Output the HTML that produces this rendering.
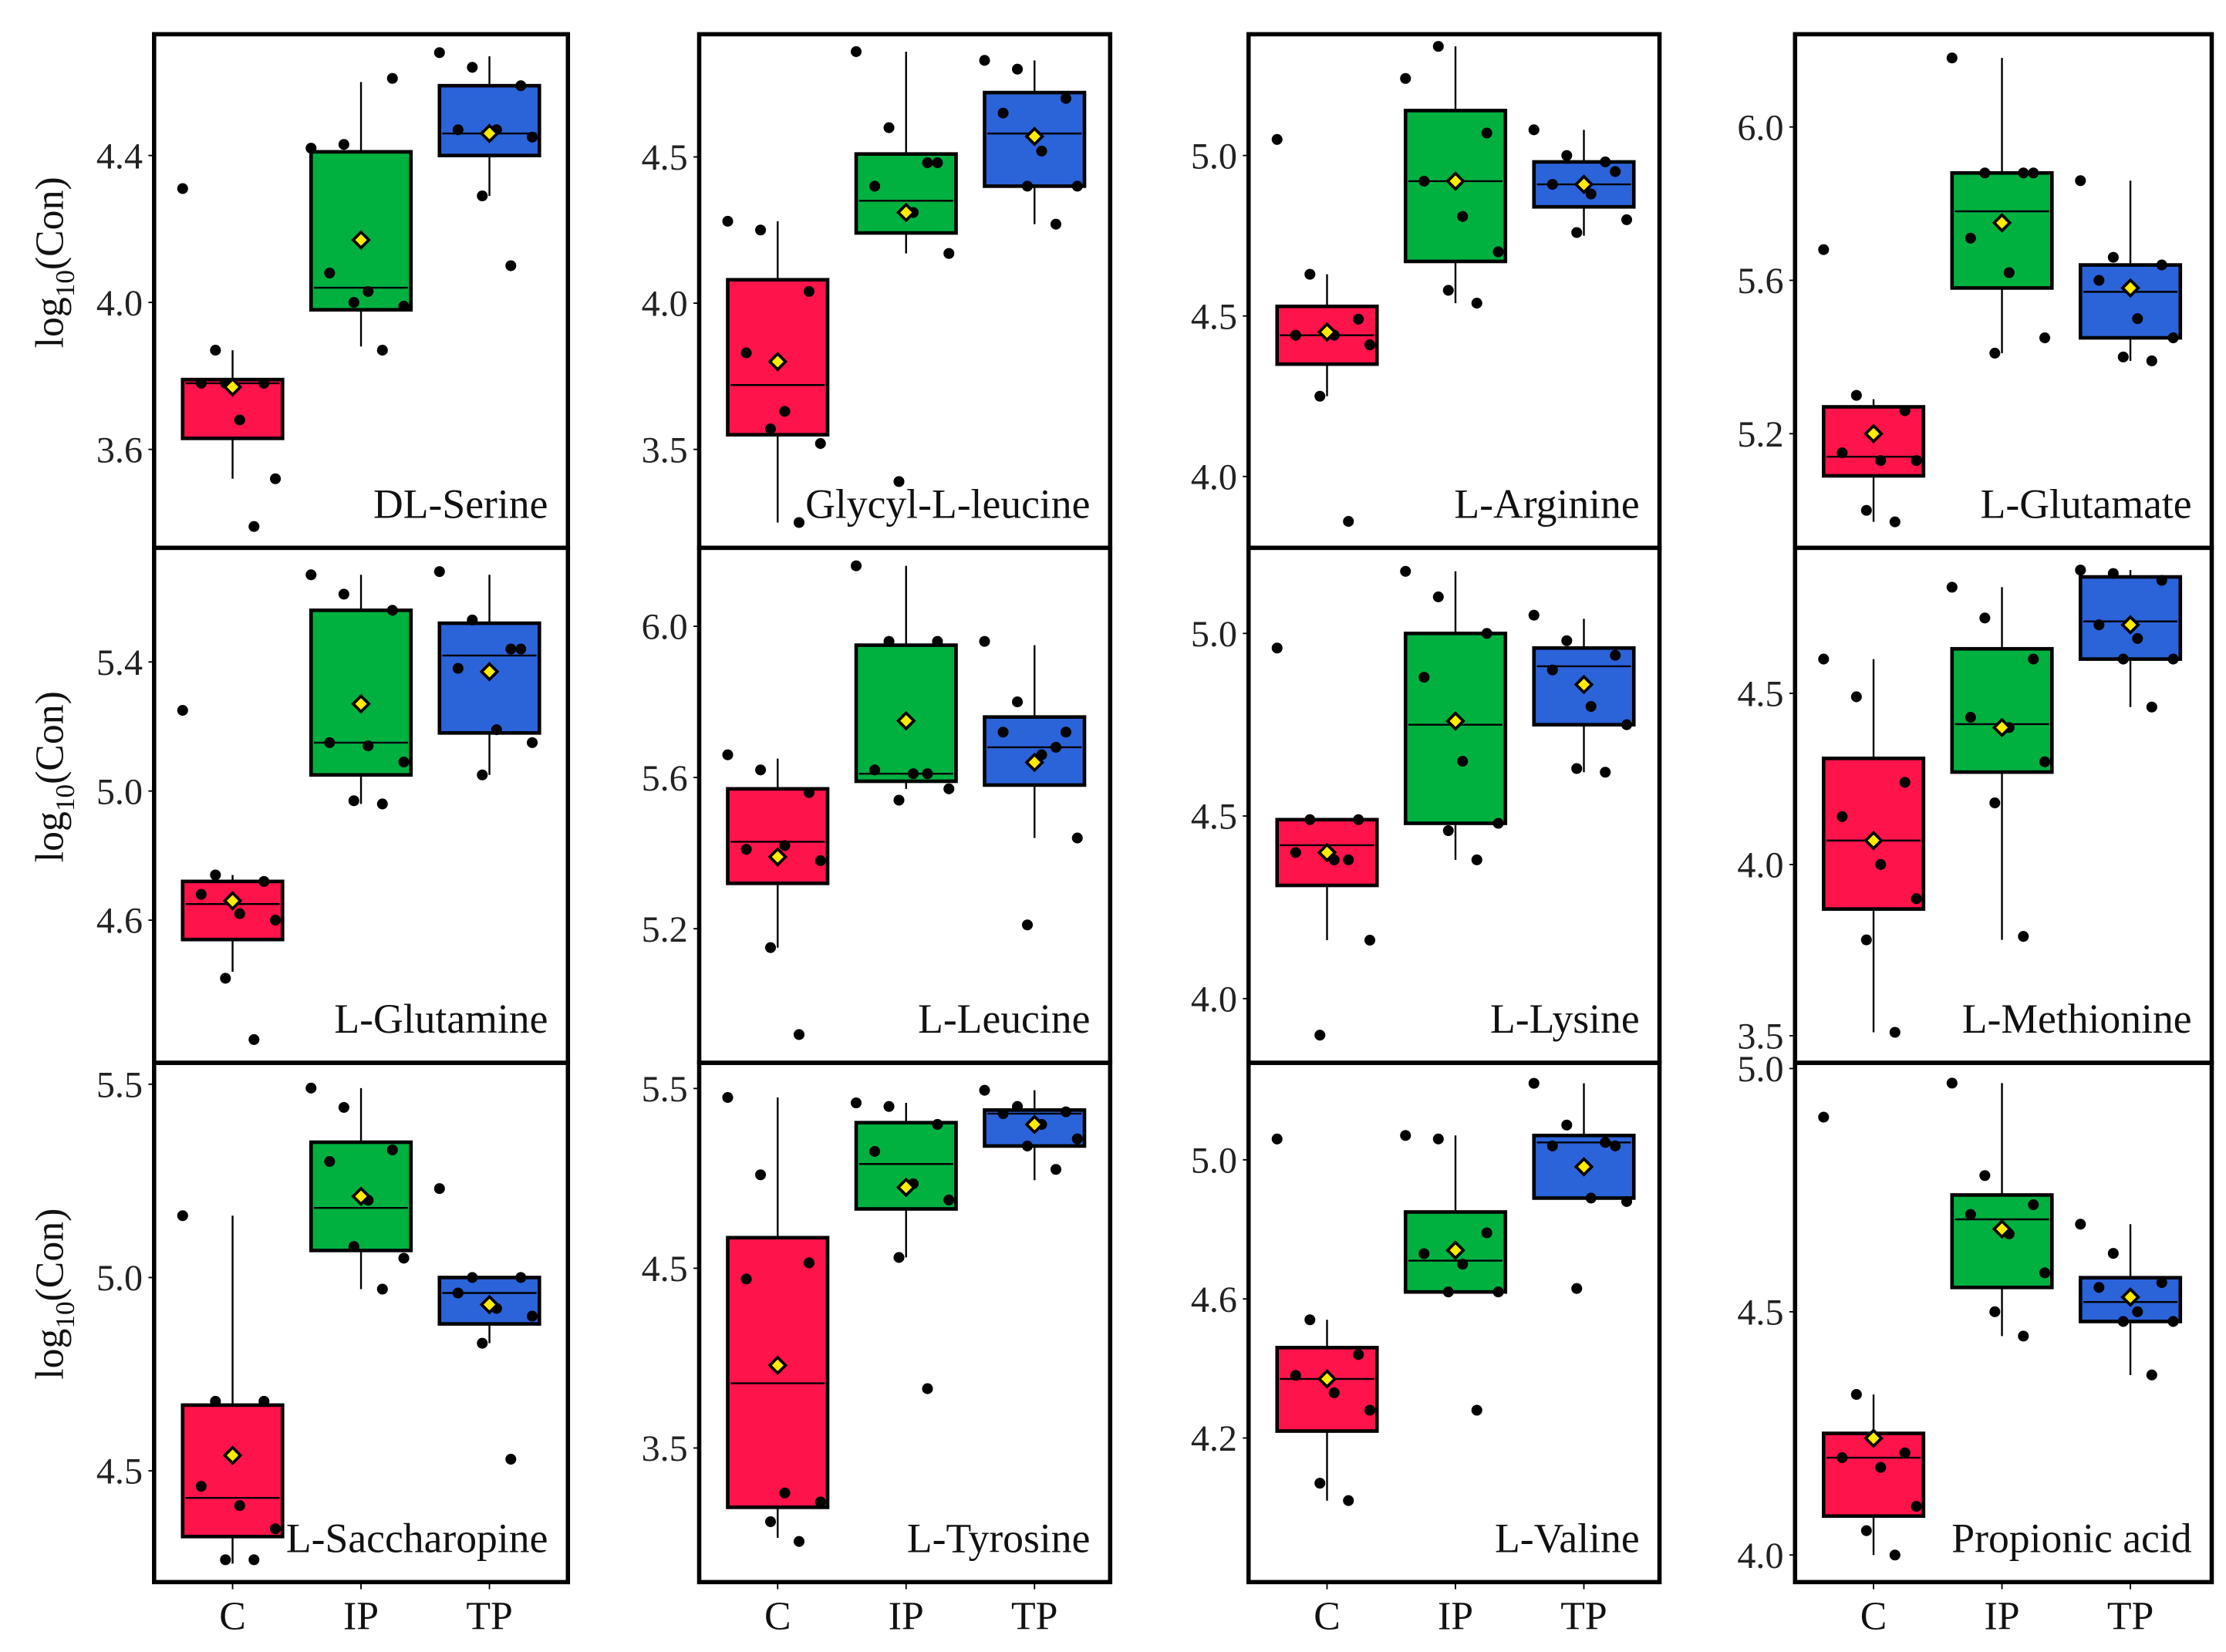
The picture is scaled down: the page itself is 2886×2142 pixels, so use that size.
<!DOCTYPE html>
<html><head><meta charset="utf-8"><style>html,body{margin:0;padding:0;background:#fff}svg{display:block}</style></head>
<body>
<svg id="chart" width="2886" height="2142" viewBox="0 0 1560 1158" preserveAspectRatio="none" xmlns="http://www.w3.org/2000/svg"></svg>
<script>
const groups = ["C","IP","TP"];
const panelNames = ["DL-Serine","Glycyl-L-leucine","L-Arginine","L-Glutamate","L-Glutamine","L-Leucine","L-Lysine","L-Methionine","L-Saccharopine","L-Tyrosine","L-Valine","Propionic acid"];
const tickLabels = [["3.6","4.0","4.4"],["3.5","4.0","4.5"],["4.0","4.5","5.0"],["5.2","5.6","6.0"],["4.6","5.0","5.4"],["5.2","5.6","6.0"],["4.0","4.5","5.0"],["3.5","4.0","4.5"],["4.5","5.0","5.5"],["3.5","4.5","5.5"],["4.2","4.6","5.0"],["4.0","4.5","5.0"]];
// [q1, median, q3, whiskerLow, whiskerHigh, mean] per group
const boxStats = [
 [[3.63,3.78,3.79,3.52,3.87,3.77],[3.98,4.04,4.41,3.88,4.60,4.17],[4.40,4.46,4.59,4.29,4.67,4.46]],
 [[3.55,3.72,4.08,3.25,4.28,3.80],[4.24,4.35,4.51,4.17,4.86,4.31],[4.40,4.58,4.72,4.27,4.83,4.57]],
 [[4.35,4.44,4.53,4.25,4.63,4.45],[4.67,4.92,5.14,4.54,5.34,4.92],[4.84,4.91,4.98,4.75,5.08,4.91]],
 [[5.09,5.14,5.27,4.97,5.29,5.20],[5.58,5.78,5.88,5.41,6.18,5.75],[5.45,5.57,5.64,5.39,5.86,5.58]],
 [[4.54,4.65,4.72,4.44,4.74,4.66],[5.05,5.15,5.56,4.96,5.67,5.27],[5.18,5.42,5.52,5.05,5.67,5.37]],
 [[5.32,5.43,5.57,5.15,5.65,5.39],[5.59,5.61,5.95,5.57,6.16,5.75],[5.58,5.68,5.76,5.44,5.95,5.64]],
 [[4.31,4.42,4.49,4.16,4.49,4.40],[4.48,4.75,5.00,4.38,5.17,4.76],[4.75,4.91,4.96,4.62,5.04,4.86]],
 [[3.87,4.07,4.31,3.51,4.60,4.07],[4.27,4.41,4.63,3.78,4.81,4.40],[4.60,4.71,4.84,4.46,4.86,4.70]],
 [[4.33,4.43,4.67,4.26,5.16,4.54],[5.07,5.18,5.35,4.97,5.49,5.21],[4.88,4.96,5.00,4.83,5.00,4.93]],
 [[3.17,3.86,4.67,3.00,5.45,3.96],[4.83,5.08,5.31,4.56,5.42,4.95],[5.18,5.36,5.38,4.99,5.49,5.30]],
 [[4.22,4.37,4.46,4.02,4.54,4.37],[4.62,4.71,4.85,4.62,5.07,4.74],[4.89,5.05,5.07,4.89,5.22,4.98]],
 [[4.08,4.20,4.25,4.00,4.33,4.24],[4.55,4.69,4.74,4.45,4.97,4.67],[4.48,4.52,4.57,4.37,4.68,4.53]]
];
const pointValues = [
 [[4.31,3.87,3.78,3.78,3.68,3.52,3.78,3.39],[4.42,4.43,4.61,4.08,4.03,3.99,4.00,3.87],[4.68,4.64,4.59,4.47,4.47,4.45,4.29,4.10]],
 [[4.28,4.25,4.04,3.83,3.63,3.52,3.57,3.25],[4.86,4.60,4.48,4.40,4.31,4.17,3.39,4.48],[4.83,4.80,4.70,4.65,4.52,4.40,4.40,4.27]],
 [[5.05,4.63,4.49,4.44,4.44,4.41,4.25,3.86],[5.24,5.34,5.07,4.92,4.81,4.70,4.58,4.54],[5.08,5.00,4.95,4.91,4.88,4.80,4.76,4.98]],
 [[5.68,5.30,5.26,5.15,5.13,5.13,5.00,4.97],[6.18,5.88,5.88,5.71,5.62,5.45,5.41,5.88],[5.86,5.66,5.64,5.60,5.50,5.45,5.40,5.39]],
 [[5.25,4.74,4.72,4.68,4.62,4.60,4.42,4.23],[5.67,5.61,5.56,5.15,5.14,5.09,4.97,4.96],[5.68,5.53,5.44,5.38,5.19,5.15,5.05,5.44]],
 [[5.66,5.62,5.56,5.41,5.42,5.38,5.15,4.92],[6.16,5.96,5.96,5.62,5.61,5.57,5.54,5.61],[5.96,5.80,5.72,5.72,5.66,5.44,5.21,5.68]],
 [[4.96,4.49,4.49,4.40,4.38,4.16,3.90,4.38],[5.17,5.10,5.00,4.88,4.65,4.48,4.46,4.38],[5.05,4.98,4.94,4.90,4.80,4.75,4.63,4.62]],
 [[4.60,4.49,4.24,4.14,4.00,3.90,3.78,3.51],[4.81,4.72,4.60,4.43,4.40,4.30,4.18,3.79],[4.86,4.85,4.83,4.70,4.66,4.60,4.60,4.46]],
 [[5.16,4.68,4.68,4.46,4.41,4.35,4.27,4.27],[5.49,5.44,5.33,5.30,5.20,5.05,5.08,4.97],[5.23,5.00,5.00,4.96,4.92,4.90,4.83,4.53]],
 [[5.45,5.02,4.53,4.44,3.25,3.20,3.09,2.98],[5.42,5.40,5.30,5.15,4.97,4.88,4.56,3.83],[5.49,5.40,5.37,5.36,5.30,5.22,5.18,5.05]],
 [[5.06,4.54,4.44,4.38,4.33,4.28,4.07,4.02],[5.07,5.06,4.79,4.73,4.70,4.62,4.62,4.28],[5.22,5.10,5.04,5.04,4.89,4.88,4.63,5.05]],
 [[4.90,4.33,4.21,4.20,4.18,4.10,4.05,4.00],[4.97,4.78,4.72,4.70,4.66,4.58,4.50,4.45],[4.68,4.62,4.56,4.55,4.50,4.48,4.48,4.37]]
];
// layout: per-panel pixel y of first and last tick
const tickPix = [[315,109],[315,110],[334,109],[304,89],[645,464],[651,439],[700,444],[726,486],[1031,760],[1015,763],[1008,813],[1090,749]];
const colX=[108,490,875,1258], colW=[290,288,288,292], rowY=[24,384,745], rowH=[360,361,364];
const colors=["#FF134B","#00B140","#2B63D9"];
const jit=[-35,-12,22,-22,5,30,-5,15];
const NS="http://www.w3.org/2000/svg";
const svg=document.getElementById('chart');
function mk(tag,attrs,parent){const e=document.createElementNS(NS,tag);for(const k in attrs)e.setAttribute(k,attrs[k]);(parent||svg).appendChild(e);return e;}
for(let p=0;p<12;p++){
  const c=p%4,r=Math.floor(p/4);
  const g=mk('g',{});
  
  
  const t=tickLabels[p], v0=parseFloat(t[0]), v1=parseFloat(t[t.length-1]);
  const [p0,p1]=tickPix[p];
  const y=v=>p0+(v-v0)*(p1-p0)/(v1-v0);
  const x0=colX[c], w=colW[c];
  const cx=i=>x0+55+i*90;
  t.forEach(s=>{const yy=y(parseFloat(s));
    const ln=mk('line',{x1:x0-4,x2:x0,y1:yy,y2:yy,stroke:'#000','stroke-width':1},g);
    
    const tx=mk('text',{x:x0-8,y:yy+9,'text-anchor':'end','font-family':'Liberation Serif, serif','font-size':26,fill:'#222'},g);
    tx.textContent=s;
  });
  for(let i=0;i<3;i++){
    const s=boxStats[p][i], bx=cx(i);
    const wl=mk('line',{x1:bx,x2:bx,y1:y(s[3]),y2:y(s[4]),stroke:'#000','stroke-width':1.3},g);
    
    const rc=mk('rect',{x:bx-35,y:y(s[2]),width:70,height:y(s[0])-y(s[2]),fill:colors[i],stroke:'#000','stroke-width':2.5},g);
    
    const md=mk('line',{x1:bx-33,x2:bx+33,y1:y(s[1]),y2:y(s[1]),stroke:'#000','stroke-width':1.3},g);
    
    pointValues[p][i].forEach((v,k)=>{
      const d=mk('circle',{cx:bx+jit[k],cy:y(v),r:3.8,fill:'#000'},g);
      
    });
    const my=y(s[5]);
    const dm=mk('path',{d:`M${bx} ${my-5.5}L${bx+5.5} ${my}L${bx} ${my+5.5}L${bx-5.5} ${my}Z`,fill:'#FFEB00',stroke:'#000','stroke-width':2},g);
    
  }
  const fr=mk('rect',{x:x0,y:rowY[r],width:w,height:rowH[r],fill:'none',stroke:'#000','stroke-width':3},g);
  
  const nm=mk('text',{x:x0+w-14,y:rowY[r]+rowH[r]-21,'text-anchor':'end','font-family':'Liberation Serif, serif','font-size':29,fill:'#111'},g);
  nm.textContent=panelNames[p];
  if(r===2){groups.forEach((gn,i)=>{
    const xt=mk('text',{x:cx(i),y:1142,'text-anchor':'middle','font-family':'Liberation Serif, serif','font-size':28,fill:'#111'},g);
    xt.textContent=gn;
    const tk=mk('line',{x1:cx(i),x2:cx(i),y1:rowY[2]+rowH[2],y2:rowY[2]+rowH[2]+5,stroke:'#000','stroke-width':1},g);
    
  });}
  if(c===0){
    const cy=rowY[r]+rowH[r]/2-20;
    const yl=mk('text',{x:0,y:0,transform:`translate(44 ${cy}) rotate(-90)`,'text-anchor':'middle','font-family':'Liberation Serif, serif','font-size':28,fill:'#111'},g);
    yl.innerHTML='log<tspan font-size="19" dy="8">10</tspan><tspan dy="-8">(Con)</tspan>';
    
  }
}
</script>
</body></html>
